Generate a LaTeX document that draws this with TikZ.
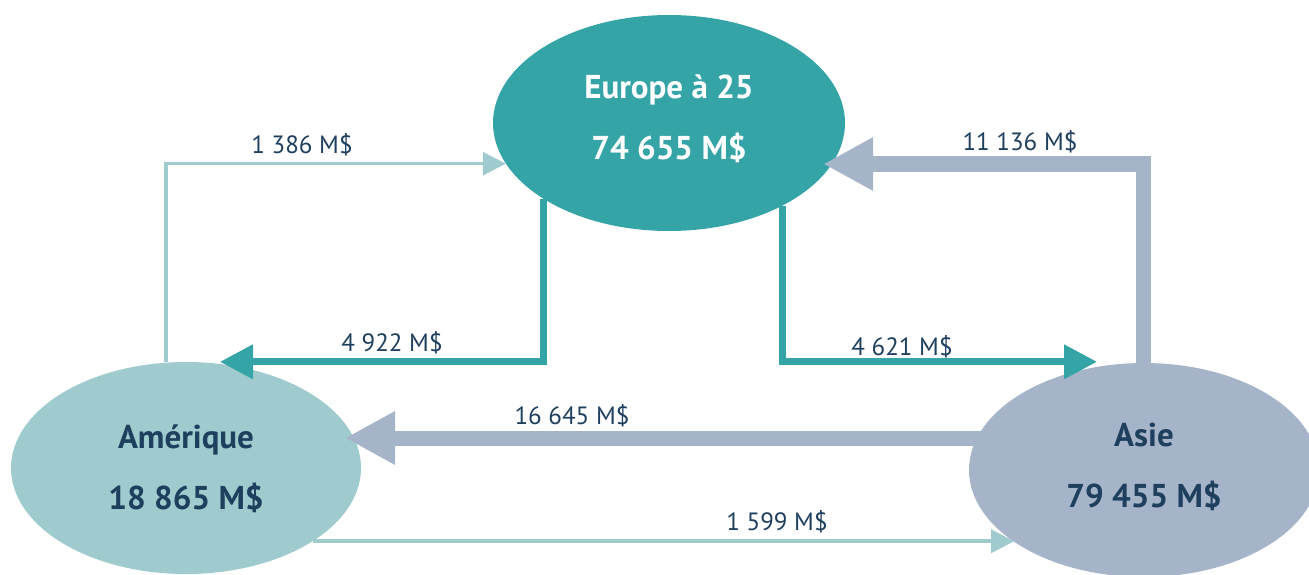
\documentclass[tikz,border=0pt]{standalone}
\usepackage{fontspec}
\setmainfont{PT Sans}
\usetikzlibrary{arrows.meta, shapes.geometric}
\definecolor{eurteal}{HTML}{35A4A6}
\definecolor{amelight}{HTML}{A0CBCE}
\definecolor{asiegray}{HTML}{A6B4CA}
\definecolor{navy}{HTML}{1E3F5E}
\newcommand{\zonetxt}[3]{\raisebox{#1}[\height][\depth]{\begin{tabular}{@{}c@{}}#2\\#3\end{tabular}}}

\begin{document}
\begin{tikzpicture}[x=1pt,y=-1pt,
  zone/.style={ellipse,inner sep=0pt,minimum width=352pt,minimum height=216pt,font=\bfseries\fontsize{33}{61}\selectfont},
  flowlabel/.style={text=navy,font=\fontsize{25}{25}\selectfont},
  thinflow/.style={draw=amelight,line width=3.5pt,-{Triangle[length=23pt,width=23pt]}},
  midflow/.style={draw=eurteal,line width=7pt,-{Triangle[length=33pt,width=33pt]}},
  bigflow/.style={draw=asiegray,line width=15pt,-{Triangle[length=50pt,width=50pt]}}]
\useasboundingbox (0,0) rectangle (1309,575);

\node[zone,fill=eurteal,text=white] (eur) at (669,123) {\zonetxt{6pt}{Europe à 25}{74 655 M\$}};
\node[zone,fill=amelight,text=navy,minimum width=350pt,minimum height=212pt] (ame) at (186,468) {\zonetxt{1pt}{Amérique}{18 865 M\$}};
\node[zone,fill=asiegray,text=navy,minimum width=350pt,minimum height=214pt] (asie) at (1144,470) {\zonetxt{5pt}{Asie}{79 455 M\$}};

\draw[thinflow] ([xshift=-20pt]ame.north) |- (eur.194);
\draw[midflow] (eur.211) |- ([xshift=34pt]ame.north);
\draw[midflow] (eur.324) |- ([shift={(-47pt,1pt)}]asie.north);
\draw[bigflow] ([xshift=-1pt]asie.north) |- ([shift={(-22pt,-41pt)}]eur.east);
\draw[bigflow] ([shift={(14pt,32pt)}]asie.west) -- ([shift={(159pt,30pt)}]ame.center);
\draw[thinflow] (ame.330) -- (ame.330 -| asie.209);

\node[flowlabel] (t1386) at (302,145) {1 386 M\$};
\node[flowlabel] (t4922) at (392,343) {4 922 M\$};
\node[flowlabel] (t4621) at (902,347) {4 621 M\$};
\node[flowlabel] (t11136) at (1020,142) {11 136 M\$};
\node[flowlabel] (t16645) at (572,416) {16 645 M\$};
\node[flowlabel] (t1599) at (777,522) {1 599 M\$};
\end{tikzpicture}
\end{document}
